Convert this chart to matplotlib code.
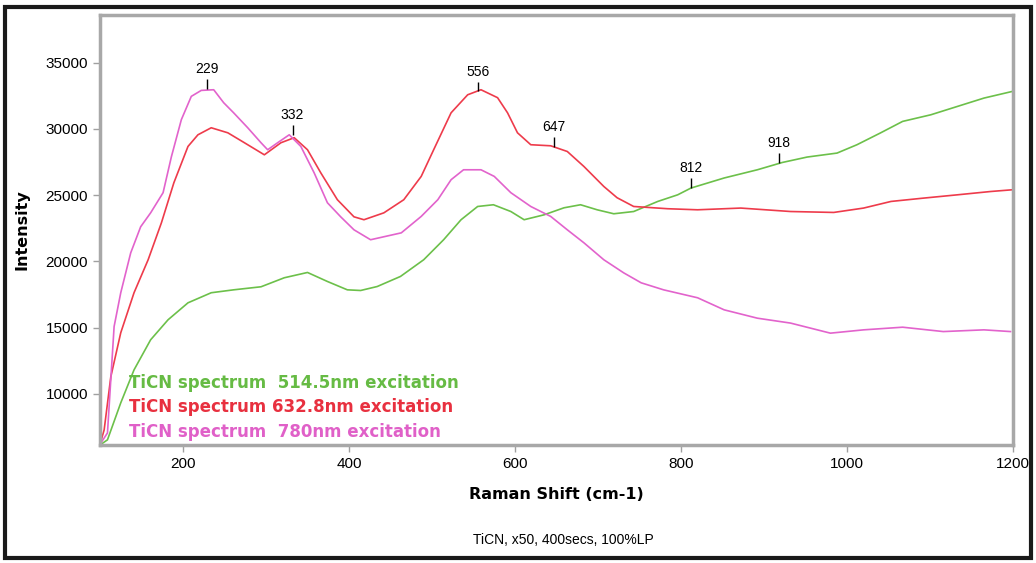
# TiCN Raman spectra at three excitation wavelengths
import matplotlib
matplotlib.use("Agg")
import matplotlib.pyplot as plt
from matplotlib.patches import Rectangle

# 514.5 nm excitation (green)
x_514 = [100, 109, 125, 141, 161, 182, 206, 234, 261, 294, 322, 350, 374, 398, 414,
         434, 462, 490, 514, 535, 555, 574, 595, 611, 635, 659, 679, 699, 719, 743,
         772, 796, 812, 852, 892, 922, 952, 988, 1012, 1040, 1067, 1101, 1133, 1165, 1199]
y_514 = [6150, 6540, 9330, 11820, 14090, 15600, 16880, 17640, 17860, 18090, 18770, 19170, 18490, 17860, 17810,
         18110, 18870, 20130, 21640, 23150, 24150, 24280, 23770, 23150, 23520, 24050, 24280, 23900, 23600, 23770,
         24530, 25030, 25540, 26300, 26920, 27470, 27880, 28180, 28810, 29690, 30570, 31070, 31700, 32330, 32830]

# 632.8 nm excitation (red)
x_632 = [100, 105, 113, 125, 141, 158, 174, 189, 206, 218, 234, 254, 274, 298, 318,
         334, 350, 366, 386, 406, 418, 442, 466, 487, 502, 523, 543, 559, 579, 591,
         603, 619, 643, 663, 683, 707, 723, 743, 784, 820, 872, 932, 984, 1020, 1053,
         1092, 1133, 1173, 1199]
y_632 = [6200, 7290, 11290, 14620, 17640, 20130, 22920, 25940, 28680, 29560, 30090, 29710, 28960, 28050, 28960,
         29340, 28430, 26690, 24660, 23370, 23150, 23670, 24660, 26420, 28430, 31220, 32580, 32960, 32360, 31220,
         29710, 28810, 28730, 28300, 27170, 25660, 24810, 24150, 23980, 23900, 24030, 23770, 23700, 24030, 24530,
         24780, 25030, 25280, 25410]

# 780 nm excitation (magenta)
x_780 = [100, 109, 117, 125, 137, 149, 161, 176, 186, 198, 210, 222, 237, 249, 261,
         278, 294, 302, 314, 328, 342, 358, 374, 390, 406, 426, 463, 487, 507, 523,
         538, 559, 575, 595, 619, 643, 663, 683, 707, 731, 752, 779, 820, 852, 892,
         932, 980, 1020, 1067, 1116, 1165, 1197]
y_780 = [6200, 7060, 15090, 17640, 20650, 22620, 23670, 25190, 27900, 30700, 32460, 32910, 32960, 31980, 31220,
         30090, 28960, 28430, 28960, 29560, 28680, 26690, 24430, 23370, 22390, 21640, 22160, 23400, 24660, 26170,
         26920, 26920, 26420, 25190, 24150, 23400, 22390, 21410, 20130, 19140, 18390, 17860, 17260, 16350, 15720,
         15350, 14590, 14840, 15040, 14710, 14840, 14710]

# labelled peaks (position, intensity at the tick foot)
peak_pos = [229, 332, 556, 647, 812, 918]
peak_int = [33040, 29560, 32830, 28660, 25560, 27450]

legend_labels = ["TiCN spectrum  514.5nm excitation",
                 "TiCN spectrum 632.8nm excitation",
                 "TiCN spectrum  780nm excitation"]
line_colors = ["#6cc04a", "#ee3b4b", "#e263cc"]
text_colors = ["#66bb44", "#e8303f", "#e060c8"]

fig = plt.figure(figsize=(10.36, 5.63), dpi=100)
ax = fig.add_axes([100 / 1036, 1 - 445 / 563, 913 / 1036, 430 / 563])

for xs, ys, c in zip([x_514, x_632, x_780], [y_514, y_632, y_780], line_colors):
    ax.plot(xs, ys, color=c, lw=1.2)

ax.set_xlim(100, 1200)
ax.set_ylim(6150, 38600)
ax.set_xticks([200, 400, 600, 800, 1000, 1200])
ax.set_yticks([10000, 15000, 20000, 25000, 30000, 35000])

for s in ax.spines.values():
    s.set_color("#a8a8a8")
    s.set_linewidth(2.5)
ax.tick_params(axis="both", colors="#a0a0a0", length=5, width=1, labelcolor="black",
               labelsize=11)
for lab in ax.get_xticklabels() + ax.get_yticklabels():
    lab.set_family("Liberation Sans")

# peak markers
for px, py in zip(peak_pos, peak_int):
    ax.vlines(px, py, py + 750, color="black", lw=1)
    ax.text(px, py + 950, str(px), ha="center", va="bottom", fontsize=10,
            family="Liberation Sans")

# coloured legend text
for i, (lab, c) in enumerate(zip(legend_labels, text_colors)):
    ax.text(0.032, 0.145 - i * 0.057, lab, transform=ax.transAxes, color=c,
            fontsize=12, fontweight="bold", va="center", ha="left")

ax.set_xlabel("Raman Shift (cm-1)", fontsize=11.5, fontweight="bold", labelpad=12)
ax.set_ylabel("Intensity", fontsize=11.5, fontweight="bold", labelpad=12)
fig.text(563 / 1036, 1 - 540 / 563, "TiCN, x50, 400secs, 100%LP", ha="center",
         va="center", fontsize=10, family="Liberation Sans")

# outer black frame
fig.patches.append(Rectangle((5 / 1036, 5 / 563), 1026 / 1036, 551 / 563,
                             transform=fig.transFigure, fill=False,
                             edgecolor="#1a1a1a", lw=3))

fig.savefig("out.png", dpi=100)
